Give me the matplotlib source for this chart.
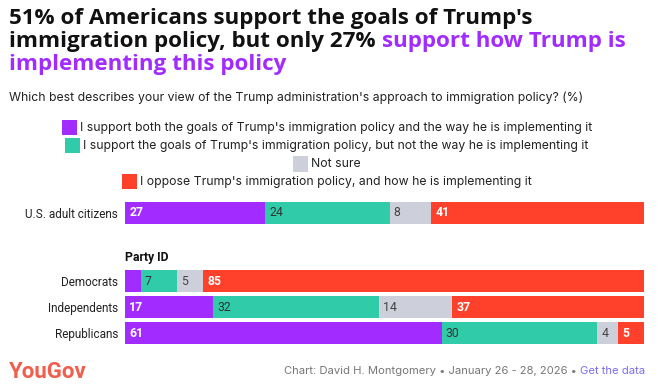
import matplotlib
matplotlib.use("Agg")
import matplotlib.pyplot as plt
from matplotlib.patches import Rectangle

plt.rcParams['font.family'] = ['Roboto', 'DejaVu Sans']

# Data
rows = ["U.S. adult citizens", "Democrats", "Independents", "Republicans"]
support_both = [27, 3, 17, 61]
support_goals = [24, 7, 32, 30]
not_sure = [8, 5, 14, 4]
oppose = [41, 85, 37, 5]
series = [support_both, support_goals, not_sure, oppose]
series_names = [
    "I support both the goals of Trump's immigration policy and the way he is implementing it",
    "I support the goals of Trump's immigration policy, but not the way he is implementing it",
    "Not sure",
    "I oppose Trump's immigration policy, and how he is implementing it",
]
colors = ["#a22bff", "#30cba9", "#cdd0da", "#ff412c"]
label_colors = ["white", "#333333", "#444444", "white"]
label_weights = ["bold", "normal", "normal", "bold"]

W, H = 659, 389
fig = plt.figure(figsize=(W / 100, H / 100), dpi=100)
head = ['Inter', 'DejaVu Sans']
tfont = ['Open Sans', 'DejaVu Sans']

# title: size picked so the first line is as wide as in the original (~524 px)
t1 = fig.text(9 / W, 1 - 24 / H, "51% of Americans support the goals of Trump's", fontsize=16,
              fontweight='bold', color='#111111', va='baseline', family=tfont)
fig.canvas.draw()
tsize = 16 * 524 / t1.get_window_extent().width
t1.set_fontsize(tsize)
t2 = fig.text(9 / W, 1 - 47 / H, "immigration policy, but only 27% ", fontsize=tsize,
              fontweight='bold', color='#111111', va='baseline', family=tfont)
fig.canvas.draw()
bb = t2.get_window_extent()
fig.text(bb.x1 / W, 1 - 47 / H, "support how Trump is", fontsize=tsize,
         fontweight='bold', color='#a22bff', va='baseline', family=tfont)
fig.text(9 / W, 1 - 70 / H, "implementing this policy", fontsize=tsize,
         fontweight='bold', color='#a22bff', va='baseline', family=tfont)

fig.text(9 / W, 1 - 98 / H,
         "Which best describes your view of the Trump administration's approach to immigration policy? (%)",
         fontsize=8.8, color='#222222', va='center', family=head)

# legend, one entry per centered line
leg_y = [127.5, 145.5, 164, 181.5]
for name, c, yy in zip(series_names, colors, leg_y):
    t = fig.text(0, 1 - yy / H, name, fontsize=8.8, color='#222222', va='center', family=head)
    fig.canvas.draw()
    w = t.get_window_extent().width
    total = w + 18
    x0 = 327 - total / 2
    t.set_x((x0 + 18) / W)
    fig.patches.append(Rectangle((x0 / W, 1 - (yy + 7.5) / H), 15 / W, 15 / H,
                                 transform=fig.transFigure, facecolor=c,
                                 edgecolor='none'))

# stacked bars
ax = fig.add_axes([125 / W, 1 - 346 / H, 519 / W, 146 / H])
ypos = [0, 2.62, 3.62, 4.62]
for i, (vals, c) in enumerate(zip(series, colors)):
    lefts = [sum(s[j] for s in series[:i]) for j in range(len(rows))]
    ax.barh(ypos, vals, left=lefts, color=c, height=0.86, edgecolor='none')
    for y, v, l in zip(ypos, vals, lefts):
        if v >= 4:
            ax.text(l + 0.8, y, str(v), va='center', ha='left', fontsize=8.8,
                    color=label_colors[i], fontweight=label_weights[i])
ax.set_xlim(0, 100)
ax.set_ylim(5.12, -0.5)
ax.set_yticks(ypos)
ax.set_yticklabels(rows, fontsize=8.5, color='#222222')
ax.tick_params(axis='y', length=0, pad=5)
ax.set_xticks([])
for s in ax.spines.values():
    s.set_visible(False)
ax.text(0, 1.72, "Party ID", fontsize=8.8, fontweight='bold', va='center', ha='left',
        color='#111111')

# footer
fig.text(9 / W, 1 - 372 / H, "YouGov", fontsize=16, fontweight='bold',
         color='#f05f4e', va='center')
ft = fig.text(0, 1 - 371 / H, "Chart: David H. Montgomery \u2022 January 26 - 28, 2026 \u2022 ",
              fontsize=8.1, color='#777777', va='center', family=head)
gd = fig.text(0, 1 - 371 / H, "Get the data", fontsize=8.1, color='#7a6cf0', va='center',
              family=head)
fig.canvas.draw()
w1 = ft.get_window_extent().width
w2 = gd.get_window_extent().width
x_end = 645
gd.set_x((x_end - w2) / W)
ft.set_x((x_end - w2 - w1) / W)

fig.savefig("out.png", dpi=100, facecolor='white')
